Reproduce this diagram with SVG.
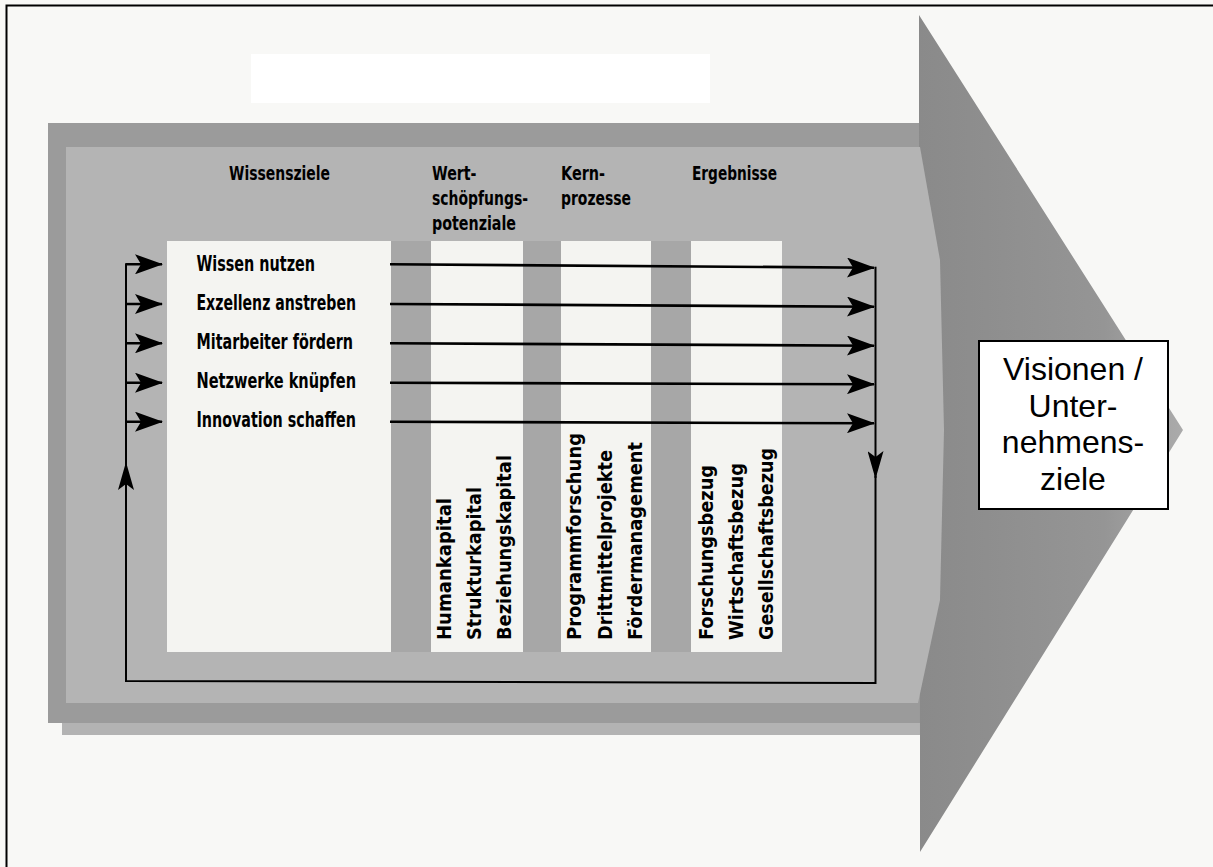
<svg xmlns="http://www.w3.org/2000/svg" width="1213" height="867" viewBox="0 0 1213 867">
  <style>
    .hd { font-family: "DejaVu Sans Condensed", "Liberation Sans", Arial, sans-serif; font-weight: bold; font-size: 19px; fill: #000; }
    .row { font-family: "DejaVu Sans Condensed", "Liberation Sans", Arial, sans-serif; font-weight: bold; font-size: 21px; fill: #000; }
    .vt { font-family: "DejaVu Sans Condensed", "Liberation Sans", Arial, sans-serif; font-weight: bold; font-size: 20px; fill: #000; }
    .vis { font-family: "Liberation Sans", Arial, sans-serif; font-size: 32px; fill: #000; text-anchor: middle; }
    .ln { fill: none; stroke: #000; stroke-width: 2.6; }
    .lnv { fill: none; stroke: #000; stroke-width: 2; }
    .panel { fill: #f4f4f1; }
    .strip { fill: #a7a7a7; }
  </style>
  <defs>
    <marker id="ah" viewBox="0 0 28 20" refX="27" refY="10" markerWidth="28" markerHeight="20" markerUnits="userSpaceOnUse" orient="auto">
      <path d="M0,0 L28,10 L0,20 L6,10 z" fill="#000"/>
    </marker>
    <marker id="ahv" viewBox="0 0 28 16" refX="27" refY="8" markerWidth="28" markerHeight="16" markerUnits="userSpaceOnUse" orient="auto">
      <path d="M0,0 L28,8 L0,16 L6,8 z" fill="#000"/>
    </marker>
    <linearGradient id="headGrad" x1="919" y1="0" x2="1183" y2="0" gradientUnits="userSpaceOnUse">
      <stop offset="0" stop-color="#8a8a8a"/>
      <stop offset="0.7" stop-color="#959595"/>
      <stop offset="1" stop-color="#ababab"/>
    </linearGradient>
  </defs>

  <!-- page -->
  <rect x="0" y="0" width="1213" height="867" fill="#f8f8f6"/>
  <path d="M6.5,867 V5.5 H1213" fill="none" stroke="#000" stroke-width="2"/>

  <!-- big arrow body -->
  <g id="arrow-body">
    <rect x="62" y="723" width="858" height="12" fill="#b3b3b3"/>
    <rect x="48" y="123" width="872" height="600" fill="#9b9b9b"/>
    <polygon points="919,15 1183,430 920,852 920,735 919,123" fill="url(#headGrad)"/>
    <polygon points="66,147 920,147 940,260 944,430 940,600 918,703 66,703" fill="#b4b4b4"/>
    <rect class="strip" x="391" y="241" width="40" height="411"/>
    <rect class="strip" x="523" y="241" width="38" height="411"/>
    <rect class="strip" x="651" y="241" width="40" height="411"/>
  </g>

  <!-- top white box -->
  <rect x="251" y="54" width="459" height="49" fill="#ffffff"/>

  <!-- columns -->
  <g id="col-wissensziele">
    <rect class="panel" x="167" y="241" width="224" height="411"/>
    <text class="hd" x="229" y="180" textLength="101" lengthAdjust="spacingAndGlyphs">Wissensziele</text>
    <text class="row" x="196.5" y="271" textLength="118.5" lengthAdjust="spacingAndGlyphs">Wissen nutzen</text>
    <text class="row" x="196.5" y="310" textLength="159.5" lengthAdjust="spacingAndGlyphs">Exzellenz anstreben</text>
    <text class="row" x="196.5" y="349" textLength="156.5" lengthAdjust="spacingAndGlyphs">Mitarbeiter fördern</text>
    <text class="row" x="196.5" y="388" textLength="159.5" lengthAdjust="spacingAndGlyphs">Netzwerke knüpfen</text>
    <text class="row" x="196.5" y="427" textLength="159.5" lengthAdjust="spacingAndGlyphs">Innovation schaffen</text>
  </g>

  <g id="col-wertschoepfung">
    <rect class="panel" x="431" y="241" width="92" height="411"/>
    <text class="hd" x="432" y="180" textLength="44.5" lengthAdjust="spacingAndGlyphs">Wert-</text>
    <text class="hd" x="432" y="205" textLength="96" lengthAdjust="spacingAndGlyphs">schöpfungs-</text>
    <text class="hd" x="432" y="230" textLength="84" lengthAdjust="spacingAndGlyphs">potenziale</text>
    <text class="vt" transform="translate(451,640) rotate(-90)" textLength="142" lengthAdjust="spacingAndGlyphs">Humankapital</text>
    <text class="vt" transform="translate(481,640) rotate(-90)" textLength="153" lengthAdjust="spacingAndGlyphs">Strukturkapital</text>
    <text class="vt" transform="translate(511,640) rotate(-90)" textLength="185" lengthAdjust="spacingAndGlyphs">Beziehungskapital</text>
  </g>

  <g id="col-kernprozesse">
    <rect class="panel" x="561" y="241" width="90" height="411"/>
    <text class="hd" x="561" y="180" textLength="44" lengthAdjust="spacingAndGlyphs">Kern-</text>
    <text class="hd" x="561" y="205" textLength="70" lengthAdjust="spacingAndGlyphs">prozesse</text>
    <text class="vt" transform="translate(581,640) rotate(-90)" textLength="207" lengthAdjust="spacingAndGlyphs">Programmforschung</text>
    <text class="vt" transform="translate(612,640) rotate(-90)" textLength="190" lengthAdjust="spacingAndGlyphs">Drittmittelprojekte</text>
    <text class="vt" transform="translate(642,640) rotate(-90)" textLength="198" lengthAdjust="spacingAndGlyphs">Fördermanagement</text>
  </g>

  <g id="col-ergebnisse">
    <rect class="panel" x="691" y="241" width="91" height="411"/>
    <text class="hd" x="692" y="180" textLength="85" lengthAdjust="spacingAndGlyphs">Ergebnisse</text>
    <text class="vt" transform="translate(713,640) rotate(-90)" textLength="175" lengthAdjust="spacingAndGlyphs">Forschungsbezug</text>
    <text class="vt" transform="translate(743,640) rotate(-90)" textLength="177" lengthAdjust="spacingAndGlyphs">Wirtschaftsbezug</text>
    <text class="vt" transform="translate(773,640) rotate(-90)" textLength="192" lengthAdjust="spacingAndGlyphs">Gesellschaftsbezug</text>
  </g>

  <g id="visionen">
    <rect x="979" y="341" width="189" height="168" fill="#ffffff" stroke="#000" stroke-width="2"/>
    <text class="vis" x="1073" y="380">Visionen /</text>
    <text class="vis" x="1073" y="417">Unter-</text>
    <text class="vis" x="1073" y="453">nehmens-</text>
    <text class="vis" x="1073" y="490">ziele</text>
  </g>

  <!-- connectors -->
  <g id="connectors">
    <line class="ln" x1="126" y1="264.3" x2="162" y2="264.3" marker-end="url(#ah)"/>
    <line class="ln" x1="126" y1="304" x2="162" y2="304" marker-end="url(#ah)"/>
    <line class="ln" x1="126" y1="343.3" x2="162" y2="343.3" marker-end="url(#ah)"/>
    <line class="ln" x1="126" y1="382.7" x2="162" y2="382.7" marker-end="url(#ah)"/>
    <line class="ln" x1="126" y1="421.7" x2="162" y2="421.7" marker-end="url(#ah)"/>

    <line class="ln" x1="390" y1="264.3" x2="874" y2="267.7" marker-end="url(#ah)"/>
    <line class="ln" x1="390" y1="304" x2="874" y2="306.7" marker-end="url(#ah)"/>
    <line class="ln" x1="390" y1="343.3" x2="874" y2="345.7" marker-end="url(#ah)"/>
    <line class="ln" x1="390" y1="382.7" x2="874" y2="384.3" marker-end="url(#ah)"/>
    <line class="ln" x1="390" y1="421.7" x2="874" y2="423.3" marker-end="url(#ah)"/>

    <path class="lnv" d="M875.5,266.7 V478" marker-end="url(#ahv)"/>
    <path class="lnv" d="M875.5,476 V683 L126,681 V463" marker-end="url(#ahv)"/>
    <path class="lnv" d="M126,465 V263.3"/>
  </g>
</svg>
